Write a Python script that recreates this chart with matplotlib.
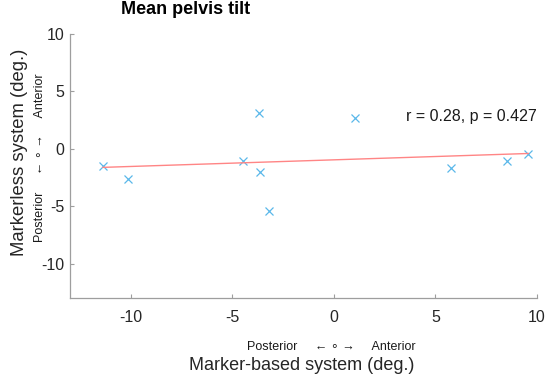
import numpy as np
import matplotlib
matplotlib.use("Agg")
import matplotlib.pyplot as plt

plt.rcParams['font.family'] = ['Liberation Sans', 'DejaVu Sans']
plt.rcParams['axes.unicode_minus'] = False

# values
marker_based = [-11.38, -10.15, -4.50, -3.68, -3.64, -3.19, 1.05, 5.75, 8.50, 9.57]
markerless = [-1.54, -2.63, -1.04, 3.10, -2.06, -5.45, 2.67, -1.68, -1.10, -0.43]
fit_x = [-11.38, 9.57]
fit_y = [-1.62, -0.41]
ticks = [-10, -5, 0, 5, 10]
stats_text = "r = 0.28, p = 0.427"

W, H = 550, 387
fig = plt.figure(figsize=(W / 100, H / 100), dpi=100)
ax = fig.add_axes([70 / W, 1 - 298 / H, 467 / W, 264 / H])

ax.plot(marker_based, markerless, linestyle="none", marker="x",
        markersize=6, markeredgewidth=0.9, color="#5BB8EA")
ax.plot(fit_x, fit_y, color="#FF8585", linewidth=1.0)

ax.set_xlim(-13, 10)
ax.set_ylim(-13, 10)
ax.set_xticks(ticks)
ax.set_yticks(ticks)
for s in ["top", "right"]:
    ax.spines[s].set_visible(False)
for s in ["left", "bottom"]:
    ax.spines[s].set_color("0.62")
    ax.spines[s].set_linewidth(0.9)
ax.tick_params(direction="in", length=3, width=0.8, color="0.62",
               labelsize=11.5, labelcolor="0.15")
ax.tick_params(axis="x", pad=9)
ax.tick_params(axis="y", pad=4)

ax.text(10, 2.8, stats_text, ha="right", va="center", fontsize=11.5, color="0.1")

fig.text(185.7 / W, 1 - 10 / H, "Mean pelvis tilt", ha="center", va="center",
         fontsize=13, fontweight="bold")
fig.text(301.7 / W, 1 - 365 / H, "Marker-based system (deg.)", ha="center",
         va="center", fontsize=13, color="0.15")
fig.text(20 / W, 1 - 152.5 / H, "Markerless system (deg.)", ha="center",
         va="center", rotation=90, fontsize=13.3, color="0.15")
fig.text(331 / W, 1 - 347 / H, "Posterior     \u2190 \u2218 \u2192     Anterior",
         ha="center", va="center", fontsize=9, color="0.1")
fig.text(40 / W, 1 - 157.5 / H, "Posterior     \u2190 \u2218 \u2192     Anterior",
         ha="center", va="center", rotation=90, fontsize=9, color="0.1")

fig.savefig("out.png", dpi=100)
